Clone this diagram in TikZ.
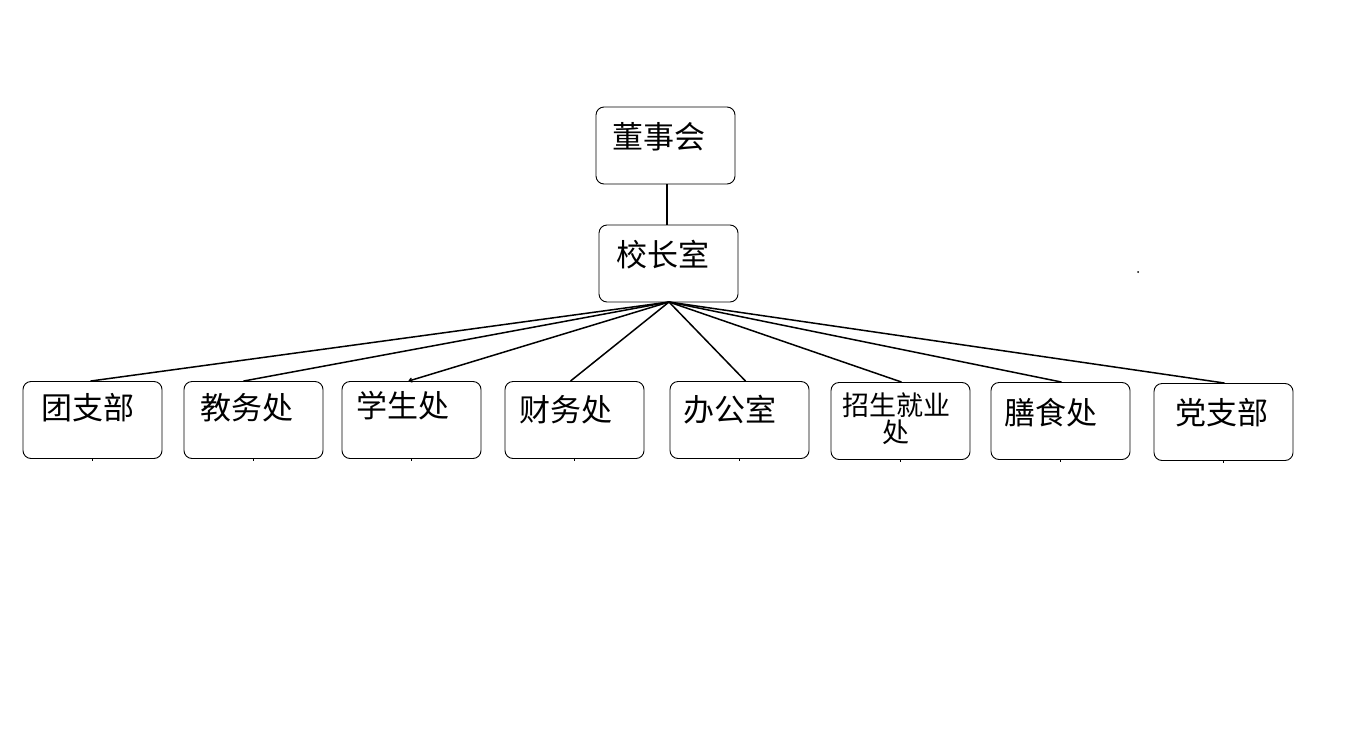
\documentclass[tikz,border=0pt]{standalone}
\usepackage{fontspec}
\newfontfamily\cjk{Noto Sans CJK SC}
\usetikzlibrary{arrows.meta}
\begin{document}
\begin{tikzpicture}[x=1pt,y=-1pt,
  box/.style={draw,rounded corners=8pt,minimum width=139pt,minimum height=77pt,inner sep=0pt,line width=0.9pt},
  lbl/.style={font=\cjk\fontsize{31}{33}\selectfont,inner sep=0pt},
  slbl/.style={font=\cjk\fontsize{27}{27}\selectfont,inner sep=0pt},
  conn/.style={line width=1.5pt},
  tick/.style={line width=1.5pt}]
\useasboundingbox (0,0) rectangle (1365,750);
% top boxes
\node[box] (dsh) at (665.5,145.5) {};
\node[lbl] (dshT) at (659,137) {董事会};
\node[box] (xzs) at (668.5,263.5) {};
\node[lbl] (xzsT) at (663,255) {校长室};
\draw[conn] ([xshift=1.5pt]dsh.south) -- ([xshift=-1.5pt]xzs.north);
% bottom boxes
\node[box] (b1) at (92.5,420) {};
\node[lbl] (t1) at (88,408) {团支部};
\node[box] (b2) at (253.5,420) {};
\node[lbl] (t2) at (247,408) {教务处};
\node[box] (b3) at (411.5,420) {};
\node[lbl] (t3) at (403,406) {学生处};
\node[box] (b4) at (574.5,420) {};
\node[lbl] (t4) at (566,410) {财务处};
\node[box] (b5) at (739.5,420) {};
\node[lbl] (t5) at (730,410) {办公室};
\node[box] (b6) at (900.5,421) {};
\node[slbl,align=center] (t6) at (896,419) {招生就业\\处};
\node[box] (b7) at (1060.5,421) {};
\node[lbl] (t7) at (1051,413) {膳食处};
\node[box] (b8) at (1223.5,422) {};
\node[lbl] (t8) at (1222,413) {党支部};
% connectors
\coordinate (apex) at (669,302);
\draw[conn] (apex) -- ([xshift=-2pt]b1.north);
\draw[conn] (apex) -- ([xshift=-10pt]b2.north);
\draw[conn,-{To[length=4pt,width=5pt]}] (apex) -- ([xshift=-3pt]b3.north);
\draw[conn] (apex) -- ([xshift=-4pt]b4.north);
\draw[conn] (apex) -- ([xshift=6pt]b5.north);
\draw[conn] (apex) -- ([xshift=1pt]b6.north);
\draw[conn] (apex) -- ([xshift=1pt]b7.north);
\draw[conn] (apex) -- ([xshift=1pt]b8.north);
% small ticks under boxes
\foreach \b in {b1,b2,b3,b4,b5,b6,b7,b8}{
  \draw[tick] (\b.south) -- ++(0,2.5);
}
\coordinate (dot) at (1138,272);
\fill (dot) circle (1pt);
\end{tikzpicture}
\end{document}
